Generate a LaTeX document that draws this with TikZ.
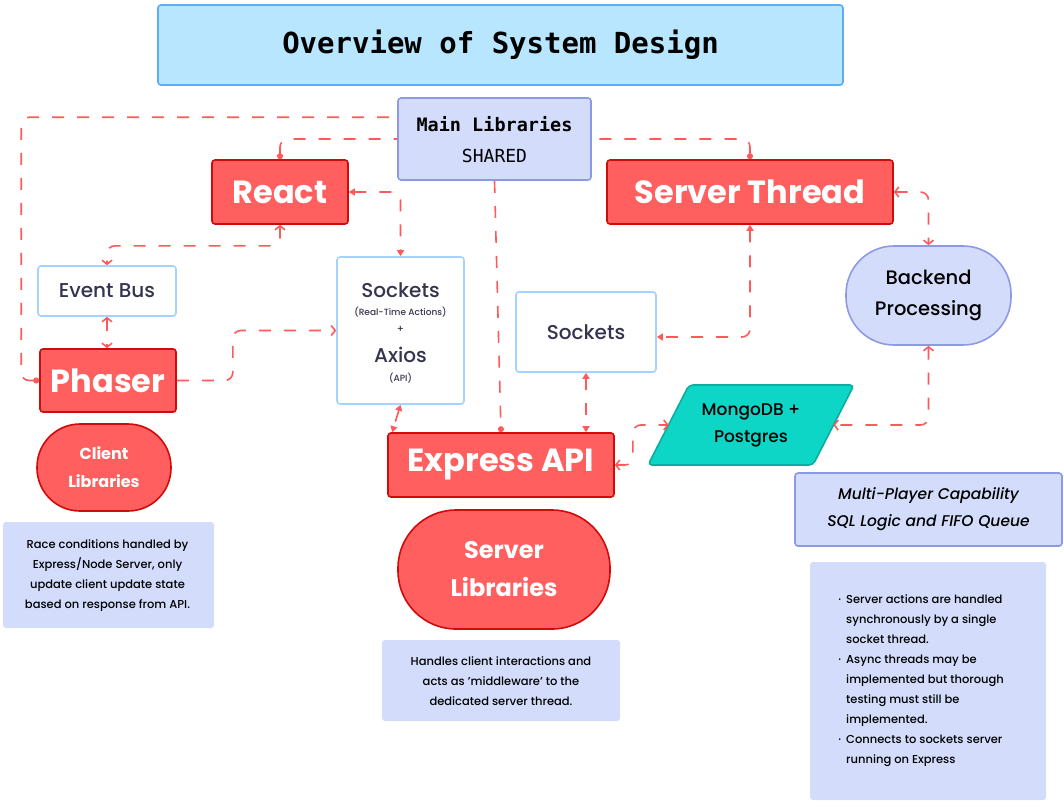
\documentclass[tikz,border=0pt]{standalone}
\usepackage{fontspec}
\setmainfont{Poppins}[UprightFont=* Medium, BoldFont=* Bold, ItalicFont=* Medium Italic]
\newfontfamily\monof{DejaVu Sans Mono}
\usetikzlibrary{arrows.meta,calc}
\definecolor{redfill}{HTML}{FF5F5F}
\definecolor{redline}{HTML}{D10A0A}
\definecolor{lav}{HTML}{D3DDFB}
\definecolor{lavline}{HTML}{8C9AE6}
\definecolor{titlefill}{HTML}{B8E6FE}
\definecolor{titleline}{HTML}{5AAEF5}
\definecolor{lblue}{HTML}{A6D2FF}
\definecolor{darktxt}{HTML}{35344F}
\definecolor{conncol}{HTML}{FF5A5A}
\definecolor{tealfill}{HTML}{0ED6C7}
\definecolor{tealline}{HTML}{0AAE9F}
\tikzset{
  redbox/.style={draw=redline, fill=redfill, line width=1.6pt, rounded corners=3pt, inner sep=0pt, text=white, font=\fontsize{32}{38}\selectfont\bfseries},
  whitebox/.style={draw=lblue, fill=white, line width=1.6pt, rounded corners=3pt, inner sep=0pt, text=darktxt},
  lavbox/.style={draw=lavline, fill=lav, line width=1.6pt, rounded corners=3pt, inner sep=0pt},
  notebox/.style={fill=lav, rounded corners=3pt, inner sep=0pt},
  conn/.style={draw=conncol, line width=1.6pt, dash pattern=on 12pt off 13pt, rounded corners=8pt},
  ft/.tip={Triangle[length=6pt,width=7pt]},
  ob/.tip={Straight Barb[length=4pt,width=10pt]},
  dt/.tip={Circle[length=6pt]},
  notetxt/.style={font=\fontsize{11.5}{20}\selectfont, text=black, inner sep=0pt}
}
\begin{document}
\begin{tikzpicture}[x=1pt,y=-1pt]
\useasboundingbox (0,0) rectangle (1064,803);

% Title
\node[draw=titleline, fill=titlefill, line width=1.6pt, rounded corners=3pt, minimum width=685pt, minimum height=80pt, inner sep=0pt, font=\monof\bfseries\fontsize{29}{34}\selectfont] (title) at (500.5,45) {Overview of System Design};

% Main libraries
\node[lavbox, minimum width=193pt, minimum height=82pt] (mainlib) at (494.5,139) {};
\node[font=\monof\bfseries\fontsize{18.5}{20}\selectfont, inner sep=0pt] (mainlibA) at (494.5,124) {Main Libraries};
\node[font=\monof\fontsize{18}{20}\selectfont, inner sep=0pt] (mainlibB) at (494.5,156) {SHARED};

% Red boxes
\node[redbox, minimum width=136pt, minimum height=64pt] (react) at (280,192) {React};
\node[redbox, minimum width=286pt, minimum height=64pt] (server) at (750,192) {Server Thread};
\node[redbox, minimum width=136pt, minimum height=63pt] (phaser) at (108,380.5) {Phaser};
\node[redbox, minimum width=226pt, minimum height=64pt] (express) at (501,465) {Express API};

% White boxes
\node[whitebox, minimum width=138pt, minimum height=50pt, font=\fontsize{20}{24}\selectfont] (evbus) at (107,291) {Event Bus};
\node[whitebox, minimum width=127pt, minimum height=147pt] (sockax) at (400.5,330.5) {};
\node[text=darktxt, inner sep=0pt, font=\fontsize{20}{24}\selectfont] (sockaxA) at (400.5,290) {Sockets};
\node[text=darktxt, inner sep=0pt, font=\fontsize{9}{11}\selectfont] (sockaxB) at (400.5,312) {(Real-Time Actions)};
\node[text=darktxt, inner sep=0pt, font=\fontsize{10}{12}\selectfont] (sockaxC) at (400.5,329) {+};
\node[text=darktxt, inner sep=0pt, font=\fontsize{20}{24}\selectfont] (sockaxD) at (400.5,355) {Axios};
\node[text=darktxt, inner sep=0pt, font=\fontsize{9}{11}\selectfont] (sockaxE) at (400.5,378) {(API)};
\node[whitebox, minimum width=140pt, minimum height=80pt, font=\fontsize{20}{24}\selectfont] (sockets) at (586,332) {Sockets};

% Backend processing
\node[draw=lavline, fill=lav, line width=1.6pt, rounded corners=48pt, minimum width=165pt, minimum height=99pt, inner sep=0pt, align=center, font=\fontsize{19.5}{31}\selectfont] (backend) at (928.5,295.5) {Backend\\Processing};

% Database parallelogram
\draw[fill=tealfill, draw=tealline, line width=1.6pt, rounded corners=4pt] (648,465) -- (689,385) -- (854,385) -- (813,465) -- cycle;
\node[minimum width=164pt, minimum height=80pt, inner sep=0pt, align=center, font=\fontsize{17}{27}\selectfont] (db) at (751,425) {MongoDB +\\Postgres};

% Library ellipses
\node[draw=redline, fill=redfill, line width=1.6pt, rounded corners=43pt, minimum width=134pt, minimum height=87pt, inner sep=0pt, text=white, align=center, font=\fontsize{16}{28}\selectfont\bfseries] (clientlib) at (104,467.5) {Client\\Libraries};
\node[draw=redline, fill=redfill, line width=1.6pt, rounded corners=58pt, minimum width=212pt, minimum height=119pt, inner sep=0pt, text=white, align=center, font=\fontsize{24}{38}\selectfont\bfseries] (serverlib) at (504,569.5) {Server\\Libraries};

% Multi-player
\node[lavbox, minimum width=267pt, minimum height=73pt, align=center, font=\fontsize{15.5}{27}\selectfont\itshape] (multi) at (928.5,509.5) {Multi-Player Capability\\SQL Logic and FIFO Queue};

% Notes
\node[notebox, minimum width=211pt, minimum height=106pt] (noteL) at (108.5,575) {};
\node[notetxt, align=center] (noteLt) at (107.5,576) {Race conditions handled by\\Express/Node Server, only\\update client update state\\based on response from API.};
\node[notebox, minimum width=238pt, minimum height=81pt] (noteM) at (501,680.5) {};
\node[notetxt, align=center] (noteMt) at (501,681) {Handles client interactions and\\acts as 'middleware' to the\\dedicated server thread.};
\node[notebox, minimum width=236pt, minimum height=238pt] (noteR) at (928,681) {};
\node[notetxt, align=left, anchor=west] (noteRt) at (846,681) {\llap{·\hspace{5pt}}Server actions are handled\\synchronously by a single\\socket thread.\\\llap{·\hspace{5pt}}Async threads may be\\implemented but thorough\\testing must still be\\implemented.\\\llap{·\hspace{5pt}}Connects to sockets server\\running on Express};

% Connectors
\draw[conn, dt-] (phaser.west) -- ++(-18,0) |- ($(mainlib.north west)+(0,20)$);
\draw[conn, dt-] (react.north) |- (mainlib.west);
\draw[conn, dt-] (server.north) |- (mainlib.east);
\draw[conn, -dt] (mainlib.south) -- (express.north);
\draw[conn, ft-ft] (react.east) -| (sockax.north);
\draw[conn, ob-ob] (react.south) -- ++(0,21) -| (evbus.north);
\draw[conn, ob-ob] (evbus.south) -- (evbus.south |- phaser.north);
\draw[conn, -ob] (phaser.east) -- ++(56,0) |- (sockax.west);
\draw[conn, ft-ft] (sockax.south) -- ($(express.north west)+(5,0)$);
\draw[conn, ft-ft] (sockets.south) -- (sockets.south |- express.north);
\draw[conn, ft-ft] (server.south) |- ($(sockets.east)+(0,5)$);
\draw[conn, ob-ob] (server.east) -| (backend.north);
\draw[conn, ob-ob] (backend.south) |- (db.east);
\draw[conn, ob-ob] (express.east) -- ++(18,0) |- (db.west);
\end{tikzpicture}
\end{document}
